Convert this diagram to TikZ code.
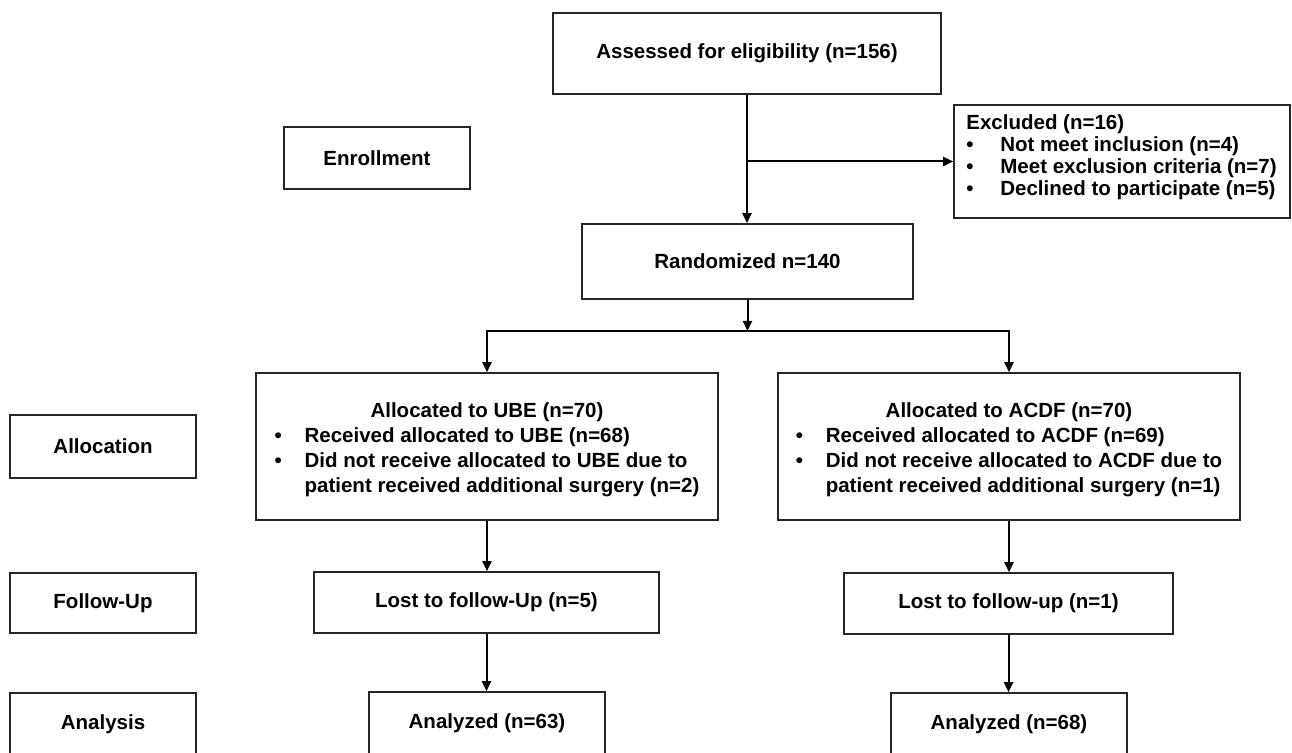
\documentclass[tikz,border=0pt]{standalone}
\usepackage{fontspec}
\setmainfont{Liberation Sans}
\usepackage{array}
\usetikzlibrary{arrows.meta}
\begin{document}
\begin{tikzpicture}[x=0.5pt,y=-0.5pt,
  box/.style={draw=black!85,line width=0.8pt,rectangle,inner sep=0pt,align=center,
    font=\fontsize{10.25}{12.5}\selectfont\bfseries,text=black},
  txt/.style={inner sep=0pt,font=\fontsize{10.25}{11}\selectfont\bfseries,text=black},
  conn/.style={line width=1pt,draw=black},
  arr/.style={conn,-{Triangle[length=5pt,width=4.5pt]}}]
\useasboundingbox (0,0) rectangle (1292,753);
\fill[white] (0,0) rectangle (1292,753);
\clip (0,0) rectangle (1292,753);

% left stage labels
\node[box,minimum width=93pt,minimum height=31pt] (enroll) at (377,158) {Enrollment};
\node[box,minimum width=93pt,minimum height=31.5pt] (alloc) at (103,446.5) {Allocation};
\node[box,minimum width=93pt,minimum height=30pt] (follow) at (103,603) {Follow-Up};
\node[box,minimum width=93pt,minimum height=31pt] (analysis) at (103,724) {Analysis};

% main flow
\node[box,minimum width=194pt,minimum height=40.5pt] (assess) at (747,53.5) {Assessed for eligibility (n=156)};
\node[box,minimum width=168pt,minimum height=56.5pt] (excl) at (1122,161.5) {};
\node[txt,anchor=base west] (exclt) at (966,130) {\begin{tabular}[t]{@{}p{17pt}@{}l@{}}
\multicolumn{2}{@{}l@{}}{Excluded (n=16)}\\
\textbullet & Not meet inclusion (n=4)\\
\textbullet & Meet exclusion criteria (n=7)\\
\textbullet & Declined to participate (n=5)
\end{tabular}};
\node[box,minimum width=165.5pt,minimum height=37.5pt] (rand) at (747.5,261.5) {Randomized n=140};
\coordinate (split) at (747.5,331);

\node[box,minimum width=231pt,minimum height=73.5pt] (ube) at (487,446.5) {\raisebox{-2pt}[\height][\depth]{\begin{tabular}{@{}p{15pt}@{}l@{}}
\multicolumn{2}{c}{Allocated to UBE (n=70)}\\
\textbullet & Received allocated to UBE (n=68)\\
\textbullet & Did not receive allocated to UBE due to\\
 & patient received additional surgery (n=2)
\end{tabular}}};
\node[box,minimum width=231pt,minimum height=73.5pt] (acdf) at (1009,446.5) {\raisebox{-2pt}[\height][\depth]{\begin{tabular}{@{}p{15pt}@{}l@{}}
\multicolumn{2}{c}{Allocated to ACDF (n=70)}\\
\textbullet & Received allocated to ACDF (n=69)\\
\textbullet & Did not receive allocated to ACDF due to\\
 & patient received additional surgery (n=1)
\end{tabular}}};

\node[box,minimum width=172.5pt,minimum height=30.5pt] (lostL) at (486.5,602.5) {Lost to follow-Up (n=5)};
\node[box,minimum width=164.5pt,minimum height=30.5pt] (lostR) at (1008.5,603.5) {Lost to follow-up (n=1)};
\node[box,minimum width=118pt,minimum height=31pt] (anaL) at (487,723) {Analyzed (n=63)};
\node[box,minimum width=118pt,minimum height=31pt] (anaR) at (1009,724) {Analyzed (n=68)};

% connectors
\draw[arr] (assess.south) -- (assess.south |- rand.north);
\draw[arr] (assess.south |- excl.west) -- (excl.west);
\draw[arr] (rand.south) -- (split);
\draw[arr] (split) -| (ube.north);
\draw[arr] (split) -| (acdf.north);
\draw[arr] (ube.south) -- (ube.south |- lostL.north);
\draw[arr] (acdf.south) -- (acdf.south |- lostR.north);
\draw[arr] (lostL.south) -- (lostL.south |- anaL.north);
\draw[arr] (lostR.south) -- (lostR.south |- anaR.north);
\end{tikzpicture}
\end{document}
